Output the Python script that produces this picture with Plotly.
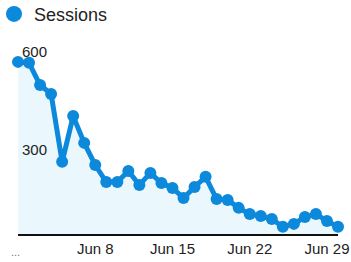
import plotly.graph_objects as go
import pandas as pd

dates = pd.date_range("2024-06-01", "2024-06-30", freq="D").strftime("%Y-%m-%d").tolist()
sessions = [591, 588, 520, 493, 285, 425, 343, 275, 223, 223,
            257, 214, 251, 220, 205, 174, 208, 239, 171, 168,
            144, 125, 119, 110, 86, 95, 116, 125, 104, 86]
tick_dates = ["2024-06-08", "2024-06-15", "2024-06-22", "2024-06-29"]
tick_labels = ["Jun 8", "Jun 15", "Jun 22", "Jun 29"]
y_ticks = [300, 600]
series_name = "Sessions"

blue = "#0d89dc"
fig = go.Figure()
fig.add_trace(go.Scatter(
    x=dates, y=sessions, mode="lines+markers", name=series_name,
    line=dict(color=blue, width=5), marker=dict(color=blue, size=12),
    fill="tozeroy", fillcolor="rgba(220,243,253,0.6)",
    cliponaxis=False, showlegend=False,
))
fig.add_trace(go.Scatter(
    x=[None], y=[None], mode="markers", name=series_name,
    marker=dict(color=blue, size=16), showlegend=True,
))
for v in y_ticks:
    fig.add_annotation(x=0, xref="paper", y=v, yref="y", text=str(v), showarrow=False,
                       xanchor="left", yanchor="bottom", xshift=2, yshift=-3,
                       font=dict(size=15, color="#222"))
fig.add_annotation(x=dates[0], xref="x", y=0, yref="paper", text="...", showarrow=False,
                   xanchor="center", yanchor="top", yshift=-10, xshift=-3,
                   font=dict(size=11, color="#777"))
fig.update_layout(
    width=351, height=262,
    margin=dict(l=18, r=13, t=40, b=28, autoexpand=False),
    paper_bgcolor="white", plot_bgcolor="white",
    font=dict(family="Liberation Sans, Arial", size=15, color="#222"),
    legend=dict(x=-0.075, y=1.228, xanchor="left", yanchor="top",
                font=dict(size=18, color="#222"), bgcolor="rgba(0,0,0,0)",
                itemsizing="trace"),
    xaxis=dict(range=[dates[0], dates[-1]], tickvals=tick_dates, ticktext=tick_labels,
               showgrid=False, zeroline=False, showline=True, linecolor="#111",
               linewidth=2, ticks="", automargin=False, tickfont=dict(size=15, color="#222")),
    yaxis=dict(range=[64, 658], showticklabels=False, showgrid=False, zeroline=False,
               showline=False, ticks="", automargin=False),
)
fig.write_html("out.html", config={"displayModeBar": False})
with open("out.html") as f:
    html = f.read()
html = html.replace("<body>", "<body style=\"margin:0;overflow:hidden\">", 1)
with open("out.html", "w") as f:
    f.write(html)
